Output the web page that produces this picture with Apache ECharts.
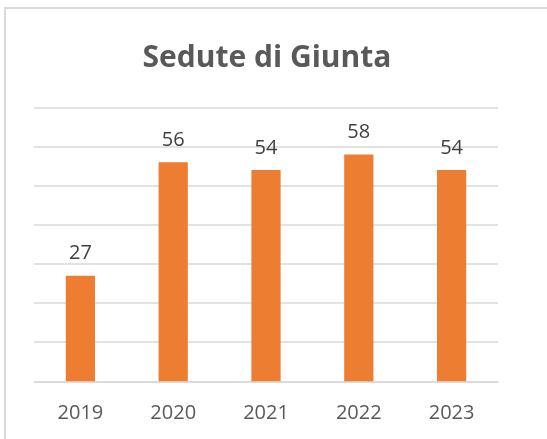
<!DOCTYPE html>
<html>
<head>
<meta charset="utf-8">
<script src="https://cdn.jsdelivr.net/npm/echarts@6/dist/echarts.min.js"></script>
<style>
html,body{margin:0;padding:0;background:#fff;}
#c{width:547px;height:439px;}
</style>
</head>
<body>
<div id="c"></div>
<script>
const titleText = "Sedute di Giunta";
const categories = ["2019", "2020", "2021", "2022", "2023"];
const values = [27, 56, 54, 58, 54];
const yMin = 0, yMax = 70, yInterval = 10;

const FONT = "'Open Sans', 'Noto Sans', sans-serif";
const chart = echarts.init(document.getElementById('c'), null, {renderer: 'canvas'});
chart.setOption({
  backgroundColor: '#fff',
  animation: false,
  title: {
    text: titleText,
    left: 262, top: 53, textAlign: 'center', textVerticalAlign: 'middle',
    textStyle: {fontFamily: FONT, fontWeight: 'bold', fontSize: 30, color: '#595959'}
  },
  graphic: [{
    type: 'rect', silent: true, z: -1,
    shape: {x: 5, y: 8, width: 700, height: 600},
    style: {fill: 'none', stroke: '#d9d9d9', lineWidth: 2}
  }],
  grid: {left: 34, right: 49, top: 107.5, bottom: 57.7, containLabel: false},
  xAxis: {
    type: 'category', data: categories,
    axisLine: {show: true, lineStyle: {color: '#d9d9d9', width: 1.5}},
    axisTick: {show: false},
    axisLabel: {fontFamily: FONT, fontSize: 20, color: '#595959', margin: 22}
  },
  yAxis: {
    type: 'value', min: yMin, max: yMax, interval: yInterval,
    axisLine: {show: false}, axisTick: {show: false}, axisLabel: {show: false},
    splitLine: {lineStyle: {color: '#d9d9d9', width: 1.5}}
  },
  series: [{
    type: 'bar', data: values, barWidth: '31.5%',
    itemStyle: {color: '#ED7D31'},
    label: {show: true, position: 'top', distance: 12, fontFamily: FONT, fontSize: 20, color: '#404040'}
  }]
});
</script>
</body>
</html>
